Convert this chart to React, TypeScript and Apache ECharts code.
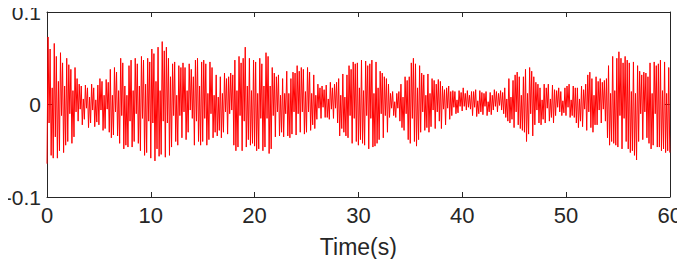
import React, { useEffect, useRef } from "react";
import * as echarts from "echarts";

// Sample spacing of the recorded signal (seconds)
const sampleStep = 0.1;

// Signal, in units of 0.001 (one value every 0.1 s, 0 … 60 s, one row per second)
const signalMilli: number[] = [
  -64, 73, -20, 60, -55, 18, -58, 66, -35, 52,
  -58, 25, -50, 56, -12, 45, -52, 20, -44, 50,
  -40, 43, -10, 38, -42, 15, -35, 40, -8, 28,
  -18, 22, -5, 20, -22, 6, -16, 21, -4, 18,
  -25, 8, -20, 22, -6, 18, -24, 5, -19, 21,
  -22, 28, -6, 25, -28, 10, -26, 27, -5, 24,
  -30, 38, -36, 10, -33, 40, -8, 35, -34, 15,
  -42, 50, -12, 45, -48, 20, -44, 10, -46, 42,
  -18, 48, -46, 15, -40, 50, -10, 44, -42, 20,
  -50, 52, -15, 48, -55, 22, -52, 50, -18, 46,
  // 10 s
  -58, 60, -20, 55, -61, 25, -48, 62, -56, 15,
  -54, 68, -18, 58, -57, 62, -20, 50, -55, 30,
  -46, 44, -12, 46, -40, 10, -44, 42, -12, 40,
  -36, 45, -8, 40, -38, 15, -30, 44, -6, 38,
  -15, 30, -44, 48, -18, 50, -40, 20, -44, 46,
  -40, 48, -15, 44, -44, 12, -38, 46, -10, 40,
  -36, 10, -30, 32, -34, 8, -28, 30, -36, 12,
  -30, 34, -8, 28, -32, 30, -10, 34, -6, 32,
  -44, 48, -50, 15, -46, 52, -12, 45, -50, 50,
  -18, 62, -46, 20, -38, 50, -44, 15, -42, 48,
  // 20 s
  -45, 46, -50, 12, -48, 50, -15, 44, -50, 20,
  -46, 56, -15, 52, -53, 20, -48, 40, -12, 34,
  -35, 30, -8, 32, -34, 10, -30, 28, -35, 12,
  -10, 36, -34, 12, -36, 28, -32, 35, -8, 34,
  -33, 42, -10, 36, -30, 40, -8, 38, -32, 14,
  -30, 40, -8, 35, -28, 12, -22, 32, -26, 10,
  -16, 22, -4, 18, -15, 20, -3, 16, -14, 21,
  -14, 6, -16, 24, -5, 18, -15, 22, -4, 24,
  -20, 28, -34, 10, -26, 33, -30, 8, -34, 32,
  -36, 42, -12, 38, -42, 46, -15, 44, -40, 45,
  // 30 s
  -44, 18, -38, 48, -42, 15, -44, 47, -12, 42,
  -48, 44, -15, 48, -46, 12, -45, 46, -42, 18,
  -38, 36, -10, 34, -36, 30, -12, 28, -30, 22,
  -14, 12, -4, 14, -12, 3, -14, 12, -4, 14,
  -18, 22, -25, 8, -28, 30, -10, 26, -38, 30,
  -42, 45, -15, 50, -40, 44, -45, 18, -38, 42,
  -30, 34, -8, 32, -28, 10, -25, 33, -30, 12,
  -24, 28, -6, 26, -26, 22, -8, 27, -18, 25,
  -26, 20, -5, 16, -22, 18, -4, 20, -16, 14,
  -12, 15, -3, 14, -10, 5, -9, 15, -2, 13,
  // 40 s
  -7, 18, -2, 12, -6, 15, -3, 10, -5, 14,
  -12, 14, -3, 16, -13, 4, -10, 15, -8, 13,
  -11, 12, -2, 14, -12, 3, -8, 13, -11, 10,
  -6, 16, -2, 14, -8, 12, -1, 15, -6, 13,
  -10, 18, -14, 6, -18, 28, -20, 8, -16, 26,
  -25, 32, -8, 35, -22, 30, -26, 10, -28, 30,
  -30, 38, -40, 12, -32, 40, -10, 36, -34, 30,
  -22, 24, -6, 22, -20, 18, -22, 5, -16, 22,
  -20, 18, -4, 22, -18, 6, -14, 21, -20, 16,
  -12, 15, -3, 18, -8, 14, -12, 4, -9, 18,
  // 50 s
  -12, 20, -3, 22, -14, 5, -12, 20, -14, 18,
  -20, 18, -25, 6, -18, 20, -24, 16, -5, 22,
  -28, 32, -8, 35, -25, 28, -30, 10, -22, 30,
  -22, 25, -6, 28, -20, 24, -5, 26, -18, 28,
  -36, 42, -44, 12, -40, 52, -42, 15, -44, 50,
  -46, 57, -12, 50, -48, 45, -15, 52, -40, 48,
  -48, 45, -52, 14, -50, 46, -55, 12, -60, 42,
  -40, 36, -10, 32, -38, 35, -8, 34, -36, 30,
  -42, 45, -48, 12, -44, 46, -10, 42, -46, 44,
  -46, 48, -50, 15, -48, 46, -52, 12, -50, 40,
  // 60 s
  -52,
];

const xTicks = [0, 10, 20, 30, 40, 50, 60];
const yTicks = [-0.1, 0, 0.1];
const xAxisTitle = "Time(s)";

const FONT = "'Liberation Sans', Arial, sans-serif";
const INK = "#262626";

export default function App() {
  const ref = useRef<HTMLDivElement>(null);

  useEffect(() => {
    if (!ref.current) return;
    const chart = echarts.init(ref.current, undefined, { renderer: "svg" });
    const data = signalMilli.map((v, i) => [
      Math.round(i * sampleStep * 10) / 10,
      v / 1000,
    ]);
    const xMin = xTicks[0];
    const xMax = xTicks[xTicks.length - 1];
    const xInt = xTicks[1] - xTicks[0];
    const yMin = yTicks[0];
    const yMax = yTicks[yTicks.length - 1];
    const yInt = yTicks[1] - yTicks[0];
    const fmtY = (v: number) => String(Math.round(v * 10) / 10);

    const axisLine = { show: true, onZero: false, lineStyle: { color: INK, width: 1 } };
    const tick = { show: true, inside: true, length: 5, lineStyle: { color: INK } };

    chart.setOption({
      animation: false,
      backgroundColor: "#ffffff",
      grid: { left: 47, right: 13, top: 12, bottom: 70, containLabel: false },
      xAxis: [
        {
          type: "value",
          min: xMin,
          max: xMax,
          interval: xInt,
          position: "bottom",
          axisLine,
          axisTick: tick,
          splitLine: { show: false },
          axisLabel: {
            color: INK,
            fontFamily: FONT,
            fontSize: 22,
            margin: 7,
          },
          name: xAxisTitle,
          nameLocation: "middle",
          nameGap: 38,
          nameTextStyle: { color: INK, fontFamily: FONT, fontSize: 23 },
        },
        {
          type: "value",
          min: xMin,
          max: xMax,
          interval: xInt,
          position: "top",
          axisLine,
          axisTick: tick,
          axisLabel: { show: false },
          splitLine: { show: false },
        },
      ],
      yAxis: [
        {
          type: "value",
          min: yMin,
          max: yMax,
          interval: yInt,
          position: "left",
          axisLine,
          axisTick: tick,
          splitLine: { show: false },
          axisLabel: {
            color: INK,
            fontFamily: FONT,
            fontSize: 21,
            margin: 6,
            formatter: fmtY,
          },
        },
        {
          type: "value",
          min: yMin,
          max: yMax,
          interval: yInt,
          position: "right",
          axisLine,
          axisTick: tick,
          axisLabel: { show: false },
          splitLine: { show: false },
        },
      ],
      series: [
        {
          type: "line",
          data,
          xAxisIndex: 0,
          yAxisIndex: 0,
          showSymbol: false,
          symbol: "none",
          lineStyle: { color: "#ff0000", width: 1 },
        },
      ],
    });
    return () => chart.dispose();
  }, []);

  return <div ref={ref} style={{ width: 685, height: 267, margin: -8 }} />;
}
